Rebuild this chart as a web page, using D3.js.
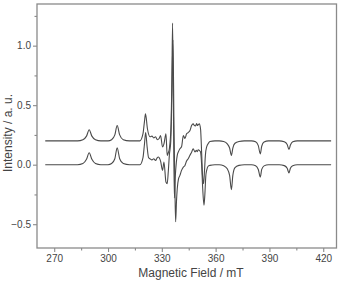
<!DOCTYPE html>
<html>
<head>
<meta charset="utf-8">
<script src="https://cdn.jsdelivr.net/npm/d3@7"></script>
<style>
  body { margin: 0; background: #fff; }
  text { font-family: "Liberation Sans", Arial, sans-serif; }
</style>
</head>
<body>
<div id="wrapper"></div>
<script>
// upper trace (offset by 0.2)
const fieldTop = [265, 283, 286, 288, 289.5, 291, 293, 296, 300, 302, 303.8, 305.1, 306.5, 308.5, 312,
  316, 317.8, 319.5, 320.3, 320.9, 322.0, 323.4, 324.5, 325.5, 326.5, 327.5, 328.5, 329.3, 330.4, 331.2,
  332.3, 333.0, 333.6, 334.2, 335.2, 335.6, 336.0, 336.5, 337.0, 337.5, 338.1, 338.6, 339.3, 340.1, 341.0,
  342.0, 342.9, 343.8, 344.7, 345.7, 346.6, 347.5, 348.1, 348.7, 349.4, 349.8, 350.3, 350.9, 351.6, 352.2,
  352.7, 353.3, 353.8, 354.3, 355.0, 356.0, 356.8, 359.6, 362, 364.5, 366.5, 367.8, 368.8, 369.6, 370.8, 373,
  376, 380, 382.3, 383.8, 384.9, 385.7, 387.0, 389.5, 395.5, 398.3, 399.9, 400.9, 401.7, 403.0, 405.5, 424.4];
const intensityTop = [0.20, 0.20, 0.21, 0.24, 0.293, 0.24, 0.21, 0.20, 0.20, 0.21, 0.25, 0.329, 0.25, 0.21, 0.20,
  0.20, 0.20, 0.26, 0.36, 0.427, 0.30, 0.235, 0.24, 0.225, 0.235, 0.21, 0.22, 0.245, 0.148, 0.176,
  0.259, 0.078, 0.10, 0.134, 0.35, 0.70, 1.19, 0.40, -0.28, -0.10, 0.02, 0.078, 0.11, 0.134, 0.15,
  0.245, 0.22, 0.26, 0.27, 0.287, 0.329, 0.343, 0.33, 0.325, 0.345, 0.33, 0.335, 0.343, 0.30, 0.10,
  -0.09, -0.16, -0.05, 0.08, 0.15, 0.18, 0.195, 0.20, 0.20, 0.195, 0.175, 0.14, 0.078, 0.14, 0.18, 0.195,
  0.20, 0.20, 0.192, 0.16, 0.091, 0.155, 0.19, 0.20, 0.20, 0.192, 0.17, 0.128, 0.165, 0.192, 0.20, 0.20];

// lower trace
const fieldBottom = [265, 283, 286, 288, 289.5, 291, 293, 296, 300, 302, 303.8, 305.1, 306.5, 308.5, 312,
  316, 317.8, 319.5, 320.3, 321.0, 321.8, 322.6, 323.4, 324.5, 325.5, 326.5, 327.5, 328.0, 329.3, 330.4,
  331.2, 332.3, 333.0, 333.6, 334.2, 335.0, 335.6, 336.2, 336.8, 337.3, 337.7, 338.2, 338.6, 339.3, 340.1,
  341.0, 342.0, 342.9, 343.8, 344.7, 345.7, 346.6, 347.5, 348.5, 349.2, 349.8, 350.3, 350.9, 351.6, 352.2,
  352.8, 353.5, 354.0, 354.5, 355.0, 356.0, 356.8, 359.6, 362, 364.5, 366.5, 367.8, 368.8, 369.6, 370.8, 373,
  376, 380, 382.3, 383.8, 384.9, 385.7, 387.0, 389.5, 395.5, 398.3, 399.9, 400.9, 401.7, 403.0, 405.5, 424.4];
const intensityBottom = [0.0, 0.0, 0.01, 0.045, 0.10, 0.045, 0.01, 0.0, 0.0, 0.01, 0.05, 0.142, 0.05, 0.01, 0.0,
  0.0, 0.0, 0.06, 0.17, 0.27, 0.15, 0.06, 0.05, 0.04, 0.05, 0.035, 0.06, 0.064, 0.03, -0.048,
  0.022, -0.146, -0.16, -0.06, 0.08, 0.20, 0.60, 1.05, 0.30, -0.20, -0.48, -0.30, -0.202, -0.12, -0.09,
  -0.048, -0.02, -0.006, 0.03, 0.05, 0.08, 0.105, 0.134, 0.106, 0.12, 0.11, 0.125, 0.12, 0.106, 0.0,
  -0.20, -0.34, -0.25, -0.10, -0.048, -0.01, -0.006, 0.0, 0.0, -0.008, -0.035, -0.09, -0.21, -0.09, -0.025, -0.006,
  0.0, 0.0, -0.008, -0.04, -0.104, -0.04, -0.01, 0.0, 0.0, -0.008, -0.03, -0.07, -0.03, -0.008, 0.0, 0.0];

const xTicks = [270, 300, 330, 360, 390, 420];
const xMinorTicks = [285, 315, 345, 375, 405];
const yTicks = [-0.5, 0.0, 0.5, 1.0];
const yMinorTicks = [-0.25, 0.25, 0.75, 1.25];

const width = 338, height = 282;
const margin = { top: 4, left: 37, right: 1.5, bottom: 34 };
const boundedWidth = width - margin.left - margin.right;
const boundedHeight = height - margin.top - margin.bottom;

const svg = d3.select("#wrapper").append("svg")
  .attr("width", width)
  .attr("height", height);

const bounded = svg.append("g")
  .attr("transform", `translate(${margin.left},${margin.top})`);

const xScale = d3.scaleLinear().domain([260.4, 427.4]).range([0, boundedWidth]);
const yScale = d3.scaleLinear().domain([-0.70, 1.35]).range([boundedHeight, 0]);

const frameColor = "#8a8a8a";
const textColor = "#444";

// spectra
const line = d3.line()
  .x(d => xScale(d[0]))
  .y(d => yScale(d[1]))
  .curve(d3.curveMonotoneX);

[[fieldTop, intensityTop], [fieldBottom, intensityBottom]].forEach(([f, v]) => {
  bounded.append("path")
    .attr("d", line(f.map((x, i) => [x, v[i]])))
    .attr("fill", "none")
    .attr("stroke", "#4a4a4a")
    .attr("stroke-width", 1.1);
});

// frame
bounded.append("rect")
  .attr("x", 0).attr("y", 0)
  .attr("width", boundedWidth).attr("height", boundedHeight)
  .attr("fill", "none")
  .attr("stroke", frameColor)
  .attr("stroke-width", 1.3);

// axes
bounded.append("g")
  .attr("transform", `translate(0,${boundedHeight})`)
  .call(d3.axisBottom(xScale).tickValues(xTicks).tickSize(4).tickPadding(3).tickFormat(d3.format("d")));
bounded.append("g")
  .attr("transform", `translate(0,${boundedHeight})`)
  .call(d3.axisBottom(xScale).tickValues(xMinorTicks).tickSize(2.5).tickFormat(""));

bounded.append("g")
  .call(d3.axisLeft(yScale).tickValues(yTicks).tickSize(4).tickPadding(2).tickFormat(d3.format(".1f")));
bounded.append("g")
  .call(d3.axisLeft(yScale).tickValues(yMinorTicks).tickSize(2.5).tickFormat(""));

bounded.selectAll(".domain").remove();
bounded.selectAll(".tick line").attr("stroke", frameColor).attr("stroke-width", 1.1);
bounded.selectAll(".tick text")
  .attr("fill", textColor)
  .style("font-size", "10px");

// labels
svg.append("text")
  .attr("x", 191)
  .attr("y", 277)
  .attr("text-anchor", "middle")
  .attr("fill", textColor)
  .style("font-size", "12px")
  .text("Magnetic Field / mT");

svg.append("text")
  .attr("transform", "translate(12,133) rotate(-90)")
  .attr("text-anchor", "middle")
  .attr("fill", textColor)
  .style("font-size", "12px")
  .text("Intensity / a. u.");
</script>
</body>
</html>
